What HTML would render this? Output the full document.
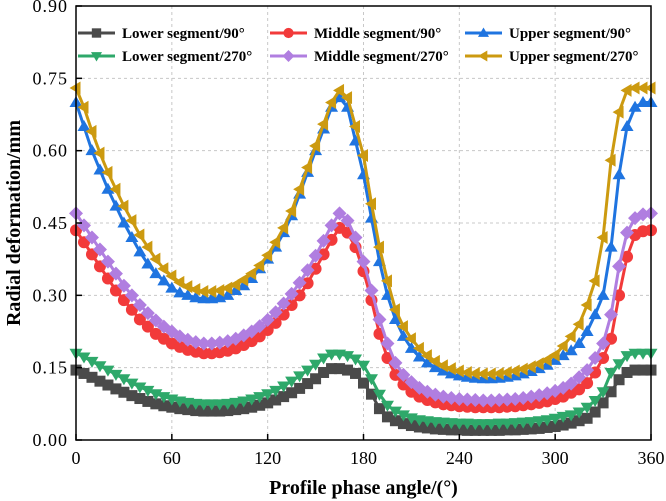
<!DOCTYPE html>
<html><head><meta charset="utf-8">
<style>
html,body{margin:0;padding:0;background:#fff;}
svg{display:block;}
text{font-family:"Liberation Serif",serif;}
</style></head>
<body>
<svg id="chart" width="666" height="501" viewBox="0 0 666 501"></svg>
<script>
const angles = [];
for (let a = 0; a <= 360; a += 5) angles.push(a);
const xTicks = [0,60,120,180,240,300,360];
const yTicks = [0,0.15,0.30,0.45,0.60,0.75,0.90];
const yTickLabels = ["0.00","0.15","0.30","0.45","0.60","0.75","0.90"];
const lower90 = [0.145,0.138,0.13,0.122,0.114,0.106,0.099,0.092,0.086,0.08,
0.075,0.071,0.068,0.065,0.063,0.061,0.06,0.06,0.06,0.061,
0.063,0.065,0.068,0.072,0.077,0.083,0.09,0.098,0.107,0.117,
0.127,0.14,0.148,0.148,0.145,0.138,0.118,0.095,0.065,0.048,
0.04,0.034,0.03,0.027,0.025,0.023,0.022,0.021,0.021,0.02,
0.02,0.02,0.02,0.02,0.021,0.021,0.022,0.023,0.024,0.026,
0.028,0.031,0.035,0.04,0.045,0.058,0.077,0.10,0.125,0.14,
0.145,0.145,0.145];
const lower270 = [0.18,0.172,0.163,0.154,0.145,0.136,0.127,0.118,0.11,0.103,
0.096,0.09,0.085,0.081,0.078,0.076,0.075,0.075,0.075,0.076,
0.078,0.081,0.085,0.09,0.096,0.103,0.112,0.122,0.133,0.145,
0.157,0.17,0.178,0.178,0.175,0.168,0.155,0.127,0.095,0.072,
0.06,0.052,0.046,0.042,0.04,0.038,0.037,0.036,0.035,0.035,
0.034,0.034,0.034,0.035,0.035,0.036,0.037,0.038,0.04,0.042,
0.045,0.049,0.052,0.058,0.068,0.082,0.10,0.14,0.158,0.175,
0.18,0.18,0.18];
const middle90 = [0.435,0.41,0.385,0.36,0.335,0.31,0.29,0.27,0.25,0.235,
0.22,0.21,0.20,0.193,0.187,0.183,0.18,0.18,0.182,0.185,
0.19,0.197,0.205,0.215,0.228,0.243,0.26,0.28,0.30,0.325,
0.355,0.385,0.415,0.44,0.43,0.40,0.35,0.29,0.22,0.17,
0.135,0.115,0.10,0.09,0.083,0.078,0.074,0.072,0.07,0.069,
0.068,0.068,0.068,0.068,0.069,0.07,0.072,0.074,0.077,0.08,
0.085,0.09,0.098,0.105,0.118,0.14,0.17,0.21,0.30,0.38,
0.425,0.433,0.435];
const middle270 = [0.47,0.445,0.42,0.395,0.37,0.345,0.32,0.30,0.28,0.263,
0.248,0.235,0.225,0.215,0.208,0.203,0.20,0.20,0.202,0.205,
0.21,0.217,0.225,0.236,0.249,0.265,0.283,0.303,0.326,0.352,
0.382,0.413,0.445,0.47,0.455,0.42,0.37,0.31,0.25,0.20,
0.16,0.135,0.12,0.108,0.10,0.094,0.09,0.087,0.085,0.084,
0.083,0.082,0.082,0.083,0.084,0.085,0.087,0.09,0.093,0.097,
0.102,0.108,0.117,0.13,0.145,0.17,0.20,0.26,0.36,0.43,
0.46,0.468,0.47];
const upper90 = [0.70,0.65,0.60,0.56,0.52,0.485,0.45,0.42,0.39,0.365,
0.345,0.33,0.315,0.305,0.30,0.295,0.293,0.293,0.295,0.30,
0.31,0.32,0.335,0.355,0.375,0.40,0.43,0.465,0.51,0.555,
0.60,0.645,0.69,0.71,0.69,0.62,0.55,0.46,0.37,0.30,
0.25,0.215,0.19,0.172,0.16,0.15,0.143,0.137,0.133,0.13,
0.128,0.127,0.127,0.128,0.13,0.133,0.137,0.142,0.148,0.155,
0.165,0.175,0.185,0.20,0.225,0.26,0.30,0.40,0.55,0.65,
0.69,0.70,0.70];
const upper270 = [0.73,0.69,0.64,0.595,0.555,0.52,0.485,0.455,0.425,0.40,
0.375,0.355,0.34,0.327,0.318,0.312,0.308,0.308,0.31,0.315,
0.322,0.332,0.345,0.362,0.383,0.41,0.44,0.475,0.52,0.565,
0.61,0.655,0.70,0.725,0.71,0.65,0.59,0.49,0.40,0.33,
0.27,0.235,0.21,0.19,0.175,0.163,0.154,0.148,0.143,0.14,
0.138,0.137,0.137,0.138,0.14,0.143,0.147,0.152,0.158,0.166,
0.176,0.195,0.215,0.24,0.28,0.33,0.42,0.58,0.68,0.725,
0.73,0.73,0.73];
const seriesNames = ["Lower segment/90°","Lower segment/270°","Middle segment/90°","Middle segment/270°","Upper segment/90°","Upper segment/270°"];

const NS = "http://www.w3.org/2000/svg";
const svg = document.getElementById("chart");
const L = 76, R = 651, T = 6, B = 440;
const X = a => L + (a / 360) * (R - L);
const Y = v => B - (v / 0.9) * (B - T);
function mk(tag, attrs, parent) {
  const e = document.createElementNS(NS, tag);
  for (const k in attrs) e.setAttribute(k, attrs[k]);
  (parent || svg).appendChild(e);
  return e;
}
const grid = mk("g", {});


xTicks.forEach(t => { if (t > 0 && t < 360) mk("line", {x1:X(t),x2:X(t),y1:T,y2:B,stroke:"#c8c8c8","stroke-dasharray":"3,3","stroke-width":1}, grid); });
yTicks.forEach(t => { if (t > 0 && t < 0.9) mk("line", {x1:L,x2:R,y1:Y(t),y2:Y(t),stroke:"#c8c8c8","stroke-dasharray":"3,3","stroke-width":1}, grid); });

function marker(g, type, x, y, color, k) {
  const s = 6.5 * k;
  let p;
  if (type === "square") p = mk("rect", {x:x-5.5*k,y:y-5.5*k,width:11*k,height:11*k,fill:color}, g);
  else if (type === "circle") p = mk("circle", {cx:x,cy:y,r:6*k,fill:color}, g);
  else if (type === "down") p = mk("polygon", {points:`${x-s},${y-4.5*k} ${x+s},${y-4.5*k} ${x},${y+6.5*k}`,fill:color}, g);
  else if (type === "up") p = mk("polygon", {points:`${x-s},${y+4.5*k} ${x+s},${y+4.5*k} ${x},${y-6.5*k}`,fill:color}, g);
  else if (type === "diamond") p = mk("polygon", {points:`${x},${y-7*k} ${x+7*k},${y} ${x},${y+7*k} ${x-7*k},${y}`,fill:color}, g);
  else if (type === "left") p = mk("polygon", {points:`${x+4.5*k},${y-s} ${x+4.5*k},${y+s} ${x-6.5*k},${y}`,fill:color}, g);
  return p;
}
const allSeries = [
  {d:lower90, c:"#4a4a4a", m:"square", n:"series-lower-90"},
  {d:lower270, c:"#2ea86a", m:"down", n:"series-lower-270"},
  {d:middle90, c:"#f23a3a", m:"circle", n:"series-middle-90"},
  {d:middle270, c:"#b07ee0", m:"diamond", n:"series-middle-270"},
  {d:upper90, c:"#1f74e0", m:"up", n:"series-upper-90"},
  {d:upper270, c:"#cc9a10", m:"left", n:"series-upper-270"}
];
allSeries.forEach(s => {
  const g = mk("g", {});
  
  
  const pts = s.d.map((v, i) => X(angles[i]) + "," + Y(v)).join(" ");
  mk("polyline", {points:pts, fill:"none", stroke:s.c, "stroke-width":3}, g);
  s.d.forEach((v, i) => {
    const p = marker(g, s.m, X(angles[i]), Y(v), s.c, 1);
    
    
  });
});
const frame = mk("rect", {x:L,y:T,width:R-L,height:B-T,fill:"none",stroke:"#000","stroke-width":1.5});


xTicks.forEach((t, i) => {
  mk("line", {x1:X(t),x2:X(t),y1:B,y2:B-6,stroke:"#000","stroke-width":1.5});
  const tx = mk("text", {x:X(t),y:B+24,"text-anchor":"middle","font-size":18,fill:"#000"});
  tx.textContent = t;
  
  
});
yTicks.forEach((t, i) => {
  mk("line", {x1:L,x2:L+6,y1:Y(t),y2:Y(t),stroke:"#000","stroke-width":1.5});
  const tx = mk("text", {x:L-8,y:Y(t)+6,"text-anchor":"end","font-size":18,fill:"#000","letter-spacing":"1"});
  tx.textContent = yTickLabels[i];
  
  
});
const xt = mk("text", {x:(L+R)/2,y:494,"text-anchor":"middle","font-size":20,"font-weight":"bold",fill:"#000"});
xt.textContent = "Profile phase angle/(°)";


const yt = mk("text", {x:0,y:0,"text-anchor":"middle","font-size":20,"font-weight":"bold",fill:"#000",transform:`translate(20,${(T+B)/2}) rotate(-90)`});
yt.textContent = "Radial deformation/mm";


const legPos = [[78,33],[78,56],[270,33],[270,56],[465,33],[465,56]];
allSeries.forEach((s, i) => {
  const g = mk("g", {});
  
  
  const [lx, ly] = legPos[i];
  mk("line", {x1:lx,x2:lx+37,y1:ly,y2:ly,stroke:s.c,"stroke-width":3}, g);
  marker(g, s.m, lx+18.5, ly, s.c, 0.85);
  const t = mk("text", {x:lx+44,y:ly+5,"font-size":15,"font-weight":"bold",fill:"#000"}, g);
  t.textContent = seriesNames[i];
});
</script>
</body></html>
